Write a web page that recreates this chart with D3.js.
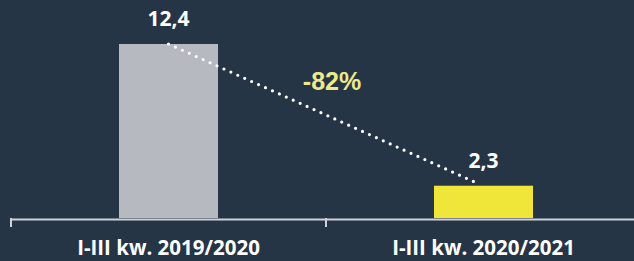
<!DOCTYPE html>
<html>
<head>
<meta charset="utf-8">
<script src="https://cdn.jsdelivr.net/npm/d3@7"></script>
<style>
html,body{margin:0;padding:0;background:#253546;}
svg{display:block;}
</style>
</head>
<body>
<script>
const categories = ["I-III kw. 2019/2020", "I-III kw. 2020/2021"];
const values = [12.4, 2.3];
const valueLabels = ["12,4", "2,3"];
const barColors = ["#b6b9bf", "#f0e63a"];
const changeLabel = "-82%";

const W = 634, H = 261;
const svg = d3.select("body").append("svg").attr("width", W).attr("height", H);
svg.append("rect").attr("width", W).attr("height", H).attr("fill", "#253546");

const x = d3.scaleBand().domain(categories).range([11, 641]).padding(0);
const y = d3.scaleLinear().domain([0, 12.4]).range([218, 44]);
const barW = 99;
const cx = c => x(c) + x.bandwidth() / 2;

// bars
svg.selectAll("rect.bar").data(categories).enter().append("rect")
  .attr("class", "bar")
  .attr("x", c => cx(c) - barW / 2)
  .attr("width", barW)
  .attr("y", (c, i) => y(values[i]))
  .attr("height", (c, i) => y(0) - y(values[i]))
  .attr("fill", (c, i) => barColors[i]);

// axis
const axis = svg.append("g").attr("transform", `translate(0,${y(0) + 1})`)
  .call(d3.axisBottom(x).tickSize(0).tickFormat(""));
axis.select(".domain").attr("stroke", "#cfd2d6").attr("stroke-width", 2);
// boundary ticks
const bounds = [x(categories[0]), x(categories[1])];
svg.selectAll("line.tk").data(bounds).enter().append("line")
  .attr("x1", d => d).attr("x2", d => d)
  .attr("y1", y(0)).attr("y2", y(0) + 9)
  .attr("stroke", "#cfd2d6").attr("stroke-width", 2);

// category labels
svg.selectAll("text.cat").data(categories).enter().append("text")
  .attr("x", c => cx(c)).attr("y", 255)
  .attr("text-anchor", "middle")
  .attr("font-family", "Open Sans, sans-serif").attr("font-weight", 700)
  .attr("font-size", 20.5).attr("fill", "#ffffff")
  .text(c => c);

// value labels
svg.selectAll("text.val").data(categories).enter().append("text")
  .attr("x", c => cx(c)).attr("y", (c, i) => y(values[i]) - 18)
  .attr("text-anchor", "middle")
  .attr("font-family", "Open Sans, sans-serif").attr("font-weight", 700)
  .attr("font-size", 21).attr("fill", "#ffffff")
  .text((c, i) => valueLabels[i]);

// dotted connector
svg.append("line")
  .attr("x1", cx(categories[0])).attr("y1", y(values[0]))
  .attr("x2", cx(categories[1]) - 5).attr("y2", y(values[1]) - 2)
  .attr("stroke", "#ffffff").attr("stroke-width", 3.2)
  .attr("stroke-linecap", "round").attr("stroke-dasharray", "0 7.6");

// change label
svg.append("text")
  .attr("x", 332).attr("y", 90)
  .attr("text-anchor", "middle")
  .attr("font-family", "Liberation Sans, Arial, sans-serif").attr("font-weight", 700)
  .attr("font-size", 25).attr("fill", "#eeea8c")
  .text(changeLabel);
</script>
</body>
</html>
